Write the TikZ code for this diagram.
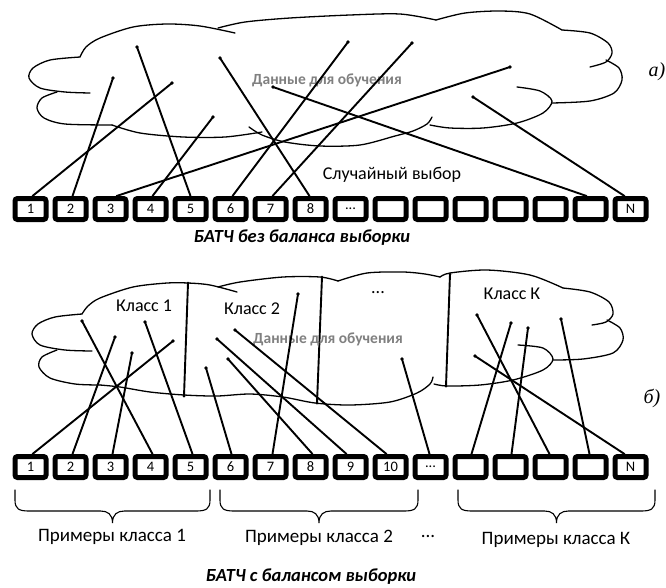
\documentclass[tikz,border=0pt]{standalone}
\usepackage{fontspec}
\setmainfont{Carlito}
\newfontfamily\letterfont{Liberation Serif}
\usetikzlibrary{calc}
\def\dotstext{...}
\begin{document}
\begin{tikzpicture}[x=1pt,y=-1pt,
  cloudline/.style={line width=1.3pt, line cap=round, line join=round},
  conn/.style={line width=1.9pt, line cap=round},
  divider/.style={line width=1.9pt},
  cell/.style={draw=black, line width=5pt, rounded corners=2.5pt, fill=white,
    minimum width=31pt, minimum height=21pt, inner sep=0pt,
    font=\fontsize{14.5}{14.5}\selectfont},
  lbl/.style={inner sep=0pt, font=\fontsize{18}{20}\selectfont},
  brlbl/.style={inner sep=0pt, font=\fontsize{19}{21}\selectfont},
  datalbl/.style={inner sep=0pt, text=black!50, font=\bfseries\fontsize{15.5}{17}\selectfont},
  capt/.style={inner sep=0pt, font=\bfseries\itshape\fontsize{18.5}{20}\selectfont},
  part/.style={inner sep=0pt, font=\letterfont\itshape\fontsize{20}{22}\selectfont},
  bracepath/.style={line width=1.1pt, line cap=round}]
\useasboundingbox (0,0) rectangle (666,587);

% ---------------- upper cloud ----------------
\draw[cloudline] plot[smooth] coordinates {(90,93) (65,92) (40,88) (29,78) (33,68) (50,60) (80,57)};
\draw[cloudline] plot[smooth] coordinates {(80,57) (86,47) (100,38) (133,27) (167,24) (200,26) (235,33)};
\draw[cloudline] plot[smooth] coordinates {(218,28) (245,22) (290,18) (350,15) (400,14) (436,20)};
\draw[cloudline] plot[smooth] coordinates {(436,20) (465,13) (500,11) (530,14) (562,30)};
\draw[cloudline] plot[smooth] coordinates {(562,30) (590,33) (608,43) (612,53) (606,62) (590,67)};
\draw[cloudline] plot[smooth] coordinates {(606,60) (619,68) (622,80) (614,93) (590,101) (552,103)};
\draw[cloudline] plot[smooth] coordinates {(517,87) (540,91) (552,101) (543,113) (517,123) (483,128) (450,128) (430,125)};
\draw[cloudline] plot[smooth] coordinates {(249,127) (262,135) (285,142) (320,146) (360,145) (395,136) (413,131) (427,124) (432,117)};
\draw[cloudline] plot[smooth] coordinates {(57,92) (42,98) (37,108) (44,118) (65,124) (112,125)};
\draw[cloudline] plot[smooth] coordinates {(112,125) (140,133) (183,137) (225,137) (262,132)};

\node[datalbl] (data1) at (327,80) {Данные для обучения};
\node[lbl] (rnd) at (392,175) {Случайный выбор};
\node[part] (parta) at (657,72) {а)};

% upper batch
\foreach \k/\t in {1/1,2/2,3/3,4/4,5/5,6/6,7/7,8/8,9/\dotstext,10/,11/,12/,13/,14/,15/,16/N}
  \node[cell] (a\k) at ({30.5+40*(\k-1)},209) {\t};

\coordinate (u1) at (172,83);
\coordinate (u2) at (113,78);
\coordinate (u3) at (510,67);
\coordinate (u4) at (213,117);
\coordinate (u5) at (137,47);
\coordinate (u6) at (348,42);
\coordinate (u7) at (412,43);
\coordinate (u8) at (220,58);
\coordinate (u15) at (273,87);
\coordinate (u16) at (473,97);

\foreach \k/\dx in {1/2,2/2,3/6,4/2,5/0,6/2,7/2,8/-1,15/-4,16/-6} {
  \draw[conn] (u\k) -- ($(a\k.north)+(\dx,0)$);
  \fill (u\k) circle (1.9pt);
}

\node[capt] (capa) at (302,238) {БАТЧ без баланса выборки};

% ---------------- lower cloud ----------------
\draw[cloudline] plot[smooth] coordinates {(92,351) (65,350) (40,345) (32,334) (38,324) (55,317) (82,314)};
\draw[cloudline] plot[smooth] coordinates {(82,314) (88,306) (100,298) (133,287) (167,283) (188,283) (210,285) (237,292)};
\draw[cloudline] plot[smooth] coordinates {(218,287) (240,282) (283,277) (320,277) (338,281)};
\draw[cloudline] plot[smooth] coordinates {(338,281) (367,273) (403,272) (425,274) (440,277)};
\draw[cloudline] plot[smooth] coordinates {(440,277) (450,273) (487,270) (530,275) (563,288)};
\draw[cloudline] plot[smooth] coordinates {(563,288) (590,292) (609,302) (613,314) (606,322) (592,325)};
\draw[cloudline] plot[smooth] coordinates {(607,320) (620,328) (623,340) (613,353) (583,359) (553,360)};
\draw[cloudline] plot[smooth] coordinates {(518,345) (543,348) (553,359) (543,370) (513,380) (480,385) (447,386) (434,384)};
\draw[cloudline] plot[smooth] coordinates {(57,350) (42,357) (39,367) (50,378) (75,384) (100,385)};
\draw[cloudline] plot[smooth] coordinates {(100,385) (120,387) (150,392) (184,395) (217,396) (250,394) (283,397) (315,403) (350,405) (390,402) (417,393) (430,384) (433,377)};

% class dividers
\foreach \n/\xa/\ya/\xb/\yb in {1/188/283/184/396, 2/322/277/317/403, 3/450/274/446/386} {
  \coordinate (s\n) at (\xa,\ya);
  \coordinate (t\n) at (\xb,\yb);
  \draw[divider] (s\n) -- (t\n);
  \fill (s\n) circle (1.5pt) (t\n) circle (1.5pt);
}

\node[lbl] (k1) at (144,306) {Класс 1};
\node[lbl] (k2) at (252,309) {Класс 2};
\node[lbl] (kd) at (378,293) {...};
\node[lbl] (kk) at (512,294) {Класс К};
\node[datalbl] (data2) at (328,339) {Данные для обучения};
\node[part] (partb) at (652,398) {б)};

% lower batch
\foreach \k/\t in {1/1,2/2,3/3,4/4,5/5,6/6,7/7,8/8,9/9,10/10,11/\dotstext,12/,13/,14/,15/,16/N}
  \node[cell] (b\k) at ({30.5+40*(\k-1)},467) {\t};

\coordinate (v4) at (82,321);
\coordinate (v2) at (115,337);
\coordinate (v3) at (132,353);
\coordinate (v1) at (173,341);
\coordinate (v5) at (145,322);
\coordinate (v6) at (206,368);
\coordinate (v7) at (298,294);
\coordinate (v8) at (228,359);
\coordinate (v9) at (217,339);
\coordinate (v10) at (235,330);
\coordinate (v11) at (402,359);
\coordinate (v14) at (477,315);
\coordinate (v12) at (511,323);
\coordinate (v13) at (528,328);
\coordinate (v15) at (561,319);
\coordinate (v16) at (475,356);

\foreach \k/\dx in {1/2,2/2,3/2,4/2,5/2,6/1,7/2,8/2,9/-4,10/-4,11/-1,12/1,13/1,14/-1,15/-1,16/-6} {
  \draw[conn] (v\k) -- ($(b\k.north)+(\dx,0)$);
  \fill (v\k) circle (1.9pt);
}

% braces under the classes
\foreach \n/\l/\r in {1/15/210, 2/220/418, 3/458/655} {
  \pgfmathsetmacro\m{(\l+\r)/2}
  \draw[bracepath] (\l,490) -- (\l,500) .. controls (\l,509) and (\l+4,511) .. (\l+14,511)
    -- (\m-12,511) .. controls (\m-5,511) and (\m,514) .. (\m,523)
    .. controls (\m,514) and (\m+5,511) .. (\m+12,511)
    -- (\r-14,511) .. controls (\r-4,511) and (\r,509) .. (\r,500) -- (\r,490);
}

\node[brlbl] (e1) at (112,537) {Примеры класса 1};
\node[brlbl] (e2) at (319,538) {Примеры класса 2};
\node[brlbl] (ed) at (428,536) {...};
\node[brlbl] (ek) at (556,540) {Примеры класса К};

\node[capt] (capb) at (311,577) {БАТЧ с балансом выборки};
\end{tikzpicture}
\end{document}
